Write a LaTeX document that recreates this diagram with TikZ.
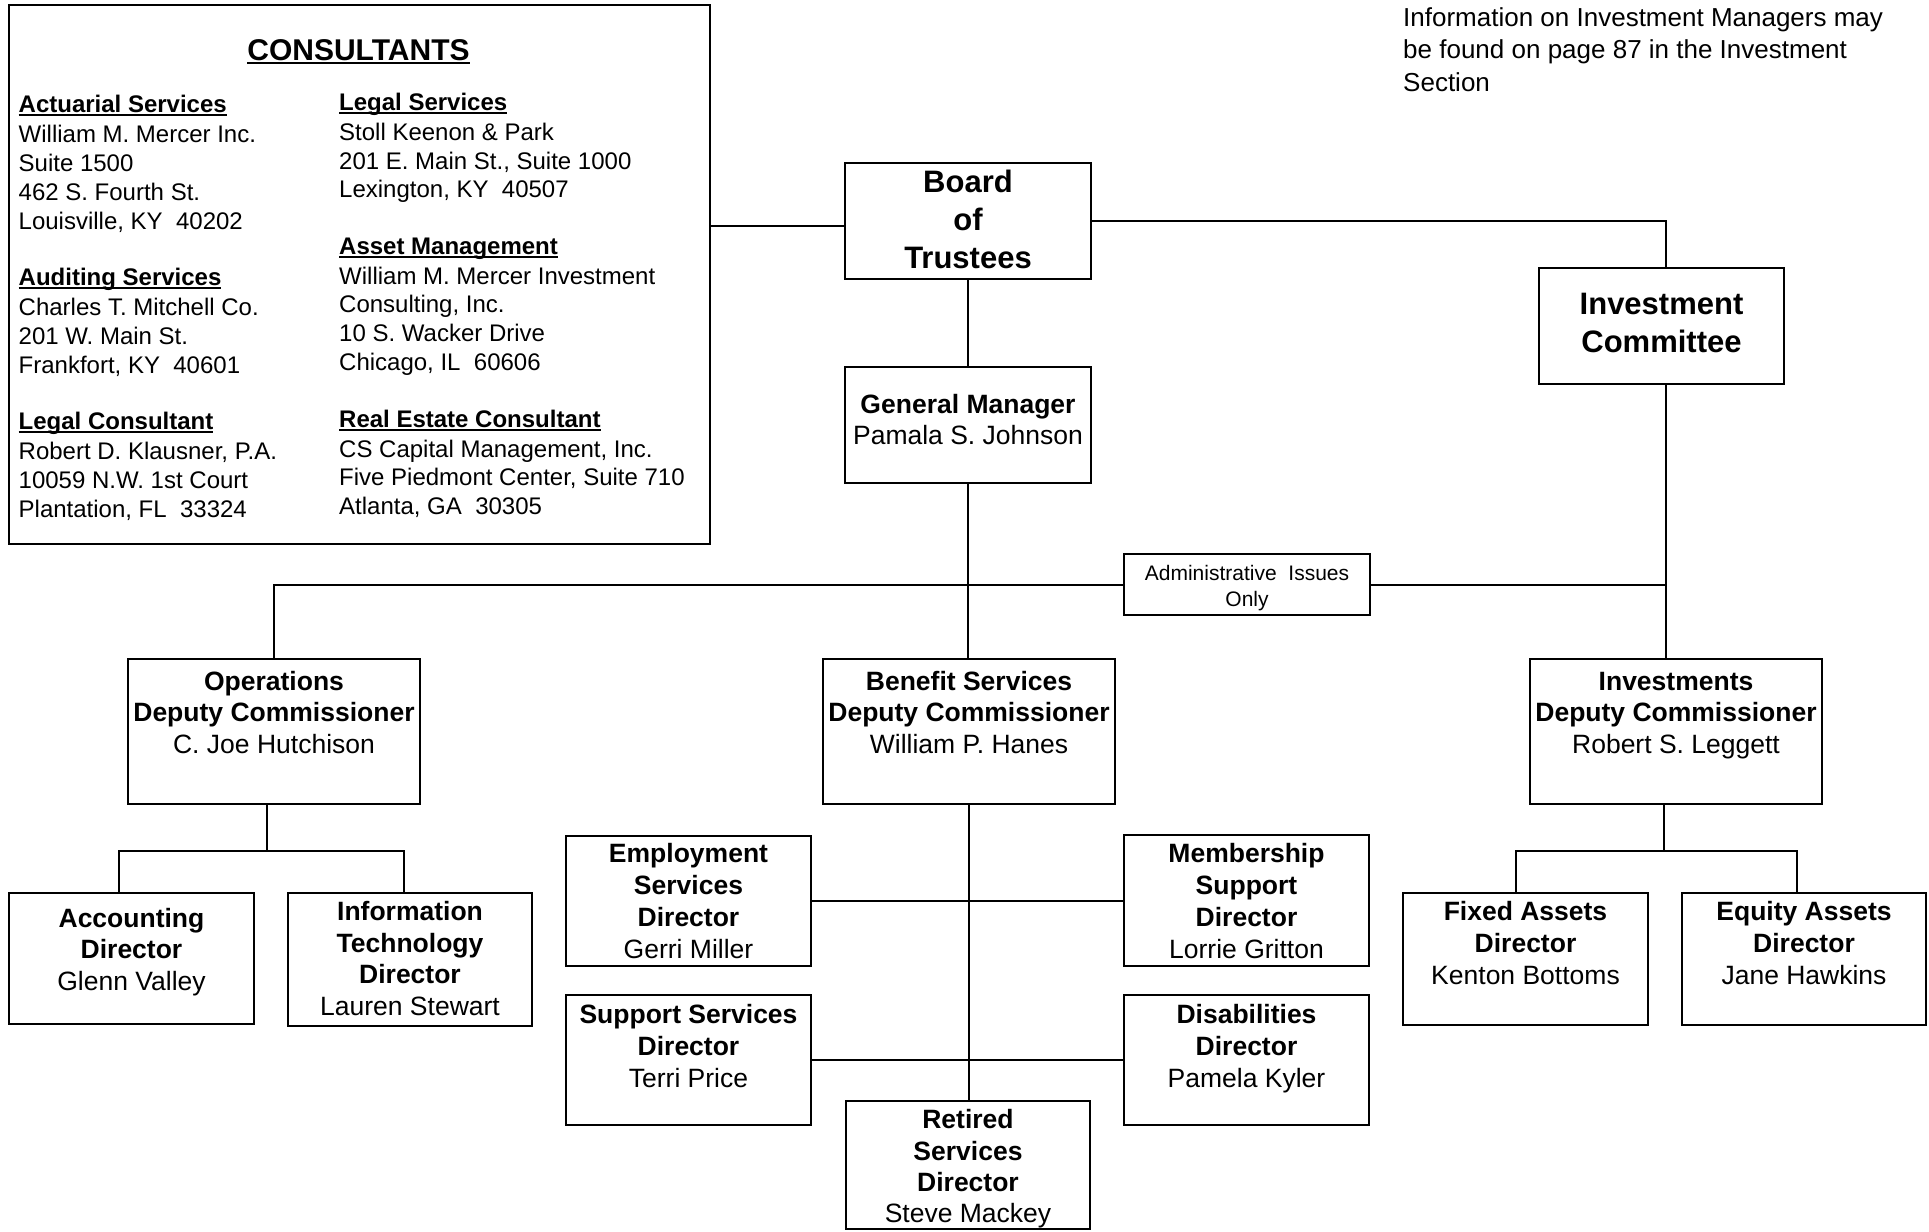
\documentclass[tikz,border=0pt]{standalone}
\usepackage{fontspec}
\setmainfont{Liberation Sans}
\newcommand\hul[1]{\setbox0\hbox{#1}\rlap{\rule[-3pt]{\wd0}{2pt}}\box0}
\newcommand\tul[1]{\setbox0\hbox{#1}\rlap{\rule[-3.6pt]{\wd0}{2.2pt}}\box0}
\newcommand\fnBig{\fontsize{31}{38}\selectfont\bfseries}
\newcommand\fnB{\fontsize{26.5}{32}\selectfont\bfseries}
\newcommand\fnR{\fontsize{26.5}{32}\selectfont}
\newcommand\fcT{\fontsize{30}{36}\selectfont\bfseries}
\newcommand\fcB{\fontsize{24}{29}\selectfont\bfseries}
\newcommand\fcR{\fontsize{24}{29}\selectfont}
\newcommand\fnAdm{\fontsize{21}{26}\selectfont}
\newcommand\fnNote{\fontsize{26}{31}\selectfont}
\tikzset{
  box/.style={draw, line width=2pt, rectangle, inner sep=0pt, outer sep=0pt, anchor=north west},
  conn/.style={line width=2pt},
  tc/.style={anchor=base, inner sep=0pt},
  tw/.style={anchor=base west, inner sep=0pt}
}
\begin{document}
\begin{tikzpicture}[x=1pt,y=-1pt]
\fill[white] (0,0) rectangle (1929,1231);
\useasboundingbox (0,0) rectangle (1929,1231);

% ---------- boxes ----------
\node[box, minimum width=701pt, minimum height=539pt] (cons) at (9,5) {};
\node[box, minimum width=246pt, minimum height=116pt] (board) at (845,163) {};
\node[box, minimum width=246pt, minimum height=116pt] (gm) at (845,367) {};
\node[box, minimum width=245pt, minimum height=116pt] (ic) at (1539,268) {};
\node[box, minimum width=246pt, minimum height=61pt] (admin) at (1124,554) {};
\node[box, minimum width=292pt, minimum height=145pt] (ops) at (128,659) {};
\node[box, minimum width=292pt, minimum height=145pt] (ben) at (823,659) {};
\node[box, minimum width=292pt, minimum height=145pt] (inv) at (1530,659) {};
\node[box, minimum width=245pt, minimum height=131pt] (acct) at (9,893) {};
\node[box, minimum width=244pt, minimum height=133pt] (it) at (288,893) {};
\node[box, minimum width=245pt, minimum height=130pt] (emp) at (566,836) {};
\node[box, minimum width=245pt, minimum height=131pt] (mem) at (1124,835) {};
\node[box, minimum width=245pt, minimum height=130pt] (sup) at (566,995) {};
\node[box, minimum width=245pt, minimum height=130pt] (dis) at (1124,995) {};
\node[box, minimum width=244pt, minimum height=128pt] (ret) at (846,1101) {};
\node[box, minimum width=245pt, minimum height=132pt] (fix) at (1403,893) {};
\node[box, minimum width=244pt, minimum height=132pt] (eq) at (1682,893) {};

% ---------- connectors ----------
\coordinate (icx) at ([xshift=4.5pt]ic.north);
\coordinate (icy) at ([xshift=4.5pt]ic.south);
\coordinate (bw) at ([yshift=-5pt]board.west);
\draw[conn] (cons.east |- bw) -- (bw);
\draw[conn] (board.east) -| (icx);
\draw[conn] (board.south) -- (gm.north);
\draw[conn] (gm.south) -- (gm.south |- ben.north);
\draw[conn] (ops.north) |- (admin.west);
\draw[conn] (admin.east) -- (admin.east -| icy);
\draw[conn] (icy) -- (icy |- inv.north);
% operations branch
\coordinate (opsbar) at ([yshift=42pt]acct.north);
\draw[conn] ([xshift=-7pt]ops.south) -- ([xshift=-7pt]ops.south |- opsbar);
\draw[conn] ([xshift=-13pt]acct.north) |- ([xshift=-6pt]it.north |- opsbar) -- ([xshift=-6pt]it.north);
% investments branch
\coordinate (invbar) at ([yshift=42pt]fix.north);
\draw[conn] ([xshift=-12pt]inv.south) -- ([xshift=-12pt]inv.south |- invbar);
\draw[conn] ([xshift=-10pt]fix.north) |- ([xshift=-7pt]eq.north |- invbar) -- ([xshift=-7pt]eq.north);
% benefit services branch
\draw[conn] (ben.south) -- (ben.south |- ret.north);
\draw[conn] (emp.east) -- (emp.east -| mem.west);
\draw[conn] (sup.east) -- (sup.east -| dis.west);

% ---------- consultants text ----------
\node[tc, font=\fcT] (ct) at (358.5,60.7) {\tul{CONSULTANTS}};
\node[tw, font=\fcB] (c1h) at (18.5,112.5) {\hul{Actuarial Services}};
\node[tw, font=\fcR] (c1a) at (18.5,142) {William M. Mercer Inc.};
\node[tw, font=\fcR] (c1b) at (18.5,171.4) {Suite 1500};
\node[tw, font=\fcR] (c1c) at (18.5,200.7) {462 S. Fourth St.};
\node[tw, font=\fcR] (c1d) at (18.5,229.6) {Louisville, KY~~40202};
\node[tw, font=\fcB] (c2h) at (18.5,285.7) {\hul{Auditing Services}};
\node[tw, font=\fcR] (c2a) at (18.5,315) {Charles T. Mitchell Co.};
\node[tw, font=\fcR] (c2b) at (18.5,344.6) {201 W. Main St.};
\node[tw, font=\fcR] (c2c) at (18.5,373) {Frankfort, KY~~40601};
\node[tw, font=\fcB] (c3h) at (18.5,429.6) {\hul{Legal Consultant}};
\node[tw, font=\fcR] (c3a) at (18.5,459) {Robert D. Klausner, P.A.};
\node[tw, font=\fcR] (c3b) at (18.5,488) {10059 N.W. 1st Court};
\node[tw, font=\fcR] (c3c) at (18.5,517) {Plantation, FL~~33324};
\node[tw, font=\fcB] (c4h) at (339,110.7) {\hul{Legal Services}};
\node[tw, font=\fcR] (c4a) at (339,140) {Stoll Keenon \& Park};
\node[tw, font=\fcR] (c4b) at (339,169) {201 E. Main St., Suite 1000};
\node[tw, font=\fcR] (c4c) at (339,197.5) {Lexington, KY~~40507};
\node[tw, font=\fcB] (c5h) at (339,254.6) {\hul{Asset Management}};
\node[tw, font=\fcR] (c5a) at (339,284) {William M. Mercer Investment};
\node[tw, font=\fcR] (c5b) at (339,312.5) {Consulting, Inc.};
\node[tw, font=\fcR] (c5c) at (339,341.8) {10 S. Wacker Drive};
\node[tw, font=\fcR] (c5d) at (339,370) {Chicago, IL~~60606};
\node[tw, font=\fcB] (c6h) at (339,427.5) {\hul{Real Estate Consultant}};
\node[tw, font=\fcR] (c6a) at (339,457) {CS Capital Management, Inc.};
\node[tw, font=\fcR] (c6b) at (339,485.7) {Five Piedmont Center, Suite 710};
\node[tw, font=\fcR] (c6c) at (339,514) {Atlanta, GA~~30305};

% ---------- note ----------
\node[tw, font=\fnNote] (n1) at (1403,27) {Information on Investment Managers may};
\node[tw, font=\fnNote] (n2) at (1403,59) {be found on page 87 in the Investment};
\node[tw, font=\fnNote] (n3) at (1403,91) {Section};

% ---------- box texts ----------
\node[tc, font=\fnBig] (board1) at (968,192) {Board};
\node[tc, font=\fnBig] (board2) at (968,230) {of};
\node[tc, font=\fnBig] (board3) at (968,268) {Trustees};
\node[tc, font=\fnBig] (ic1) at (1661.5,314) {Investment};
\node[tc, font=\fnBig] (ic2) at (1661.5,352) {Committee};
\node[tc, font=\fnB] (gm1) at (968,413.5) {General Manager};
\node[tc, font=\fnR] (gm2) at (968,444) {Pamala S. Johnson};
\node[tc, font=\fnAdm] (adm1) at (1247,580.5) {Administrative~~Issues};
\node[tc, font=\fnAdm] (adm2) at (1247,606) {Only};

\node[tc, font=\fnB] (ops1) at (274,690) {Operations};
\node[tc, font=\fnB] (ops2) at (274,721.5) {Deputy Commissioner};
\node[tc, font=\fnR] (ops3) at (274,753) {C. Joe Hutchison};
\node[tc, font=\fnB] (ben1) at (969,690) {Benefit Services};
\node[tc, font=\fnB] (ben2) at (969,721.5) {Deputy Commissioner};
\node[tc, font=\fnR] (ben3) at (969,753) {William P. Hanes};
\node[tc, font=\fnB] (inv1) at (1676,690) {Investments};
\node[tc, font=\fnB] (inv2) at (1676,721.5) {Deputy Commissioner};
\node[tc, font=\fnR] (inv3) at (1676,753) {Robert S. Leggett};

\node[tc, font=\fnB] (acct1) at (131.5,927) {Accounting};
\node[tc, font=\fnB] (acct2) at (131.5,958.5) {Director};
\node[tc, font=\fnR] (acct3) at (131.5,990) {Glenn Valley};
\node[tc, font=\fnB] (it1) at (410,920) {Information};
\node[tc, font=\fnB] (it2) at (410,952) {Technology};
\node[tc, font=\fnB] (it3) at (410,983.5) {Director};
\node[tc, font=\fnR] (it4) at (410,1015.5) {Lauren Stewart};

\node[tc, font=\fnB] (emp1) at (688.5,862) {Employment};
\node[tc, font=\fnB] (emp2) at (688.5,894.5) {Services};
\node[tc, font=\fnB] (emp3) at (688.5,926.5) {Director};
\node[tc, font=\fnR] (emp4) at (688.5,958.5) {Gerri Miller};
\node[tc, font=\fnB] (mem1) at (1246.5,862) {Membership};
\node[tc, font=\fnB] (mem2) at (1246.5,894.5) {Support};
\node[tc, font=\fnB] (mem3) at (1246.5,926.5) {Director};
\node[tc, font=\fnR] (mem4) at (1246.5,958.5) {Lorrie Gritton};
\node[tc, font=\fnB] (sup1) at (688.5,1023) {Support Services};
\node[tc, font=\fnB] (sup2) at (688.5,1055) {Director};
\node[tc, font=\fnR] (sup3) at (688.5,1087) {Terri Price};
\node[tc, font=\fnB] (dis1) at (1246.5,1023) {Disabilities};
\node[tc, font=\fnB] (dis2) at (1246.5,1055) {Director};
\node[tc, font=\fnR] (dis3) at (1246.5,1087) {Pamela Kyler};
\node[tc, font=\fnB] (ret1) at (968,1128) {Retired};
\node[tc, font=\fnB] (ret2) at (968,1160) {Services};
\node[tc, font=\fnB] (ret3) at (968,1191) {Director};
\node[tc, font=\fnR] (ret4) at (968,1222) {Steve Mackey};

\node[tc, font=\fnB] (fix1) at (1525.5,920) {Fixed Assets};
\node[tc, font=\fnB] (fix2) at (1525.5,952) {Director};
\node[tc, font=\fnR] (fix3) at (1525.5,984) {Kenton Bottoms};
\node[tc, font=\fnB] (eq1) at (1804,920) {Equity Assets};
\node[tc, font=\fnB] (eq2) at (1804,952) {Director};
\node[tc, font=\fnR] (eq3) at (1804,984) {Jane Hawkins};
\end{tikzpicture}
\end{document}
